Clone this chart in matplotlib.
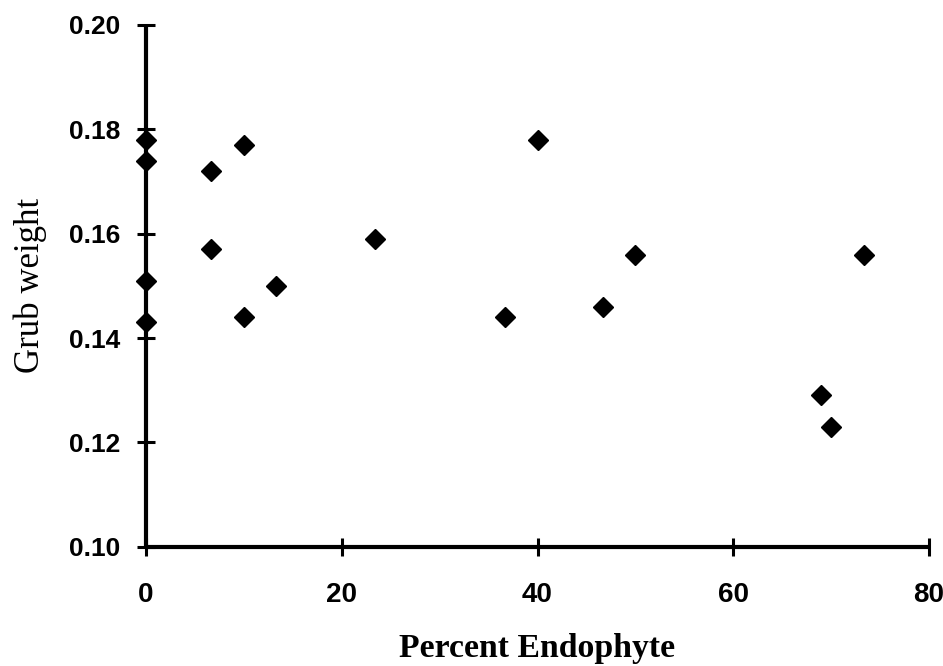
import matplotlib
matplotlib.use("Agg")
import matplotlib.pyplot as plt

percent_endophyte = [0, 0, 0, 0, 6.6, 6.6, 10, 10, 13.3, 23.4, 36.7, 40.1, 46.7, 50.0, 69.0, 70.0, 73.4]
grub_weight = [0.178, 0.174, 0.151, 0.143, 0.172, 0.157, 0.177, 0.144, 0.150, 0.159,
               0.144, 0.178, 0.146, 0.156, 0.129, 0.123, 0.156]
x_ticks = [0, 20, 40, 60, 80]
y_ticks = [0.10, 0.12, 0.14, 0.16, 0.18, 0.20]

fig = plt.figure(figsize=(9.43, 6.66), dpi=100)
ax = fig.add_axes([146/943, 1-546.7/666, (929-146)/943, (546.7-25)/666])
ax.plot(percent_endophyte, grub_weight, linestyle="none", marker="D",
        markersize=10, color="black", clip_on=False, zorder=5)

ax.set_xlim(0, 80)
ax.set_ylim(0.10, 0.20)
ax.set_xticks(x_ticks)
ax.set_yticks(y_ticks)
ax.set_xticklabels([str(t) for t in x_ticks])
ax.set_yticklabels([f"{t:.2f}" for t in y_ticks])

for s in ["top", "right"]:
    ax.spines[s].set_visible(False)
for s in ["left", "bottom"]:
    ax.spines[s].set_linewidth(3)
    ax.spines[s].set_capstyle("butt")

ax.tick_params(axis="both", direction="inout", length=13, width=2.2, colors="black")
ax.tick_params(axis="x", pad=19)
ax.tick_params(axis="y", pad=12)
for lab in ax.get_xticklabels():
    lab.set_fontfamily("Liberation Sans")
    lab.set_fontweight("bold")
    lab.set_fontsize(20)
for lab in ax.get_yticklabels():
    lab.set_fontfamily("Liberation Sans")
    lab.set_fontweight("bold")
    lab.set_fontsize(19)

ax.set_xlabel("Percent Endophyte", fontfamily="Liberation Serif", fontweight="bold",
              fontsize=24.3, labelpad=18)
ax.set_ylabel("Grub weight", fontfamily="Liberation Serif", fontsize=25, labelpad=16)

fig.savefig("out.png", dpi=100)
